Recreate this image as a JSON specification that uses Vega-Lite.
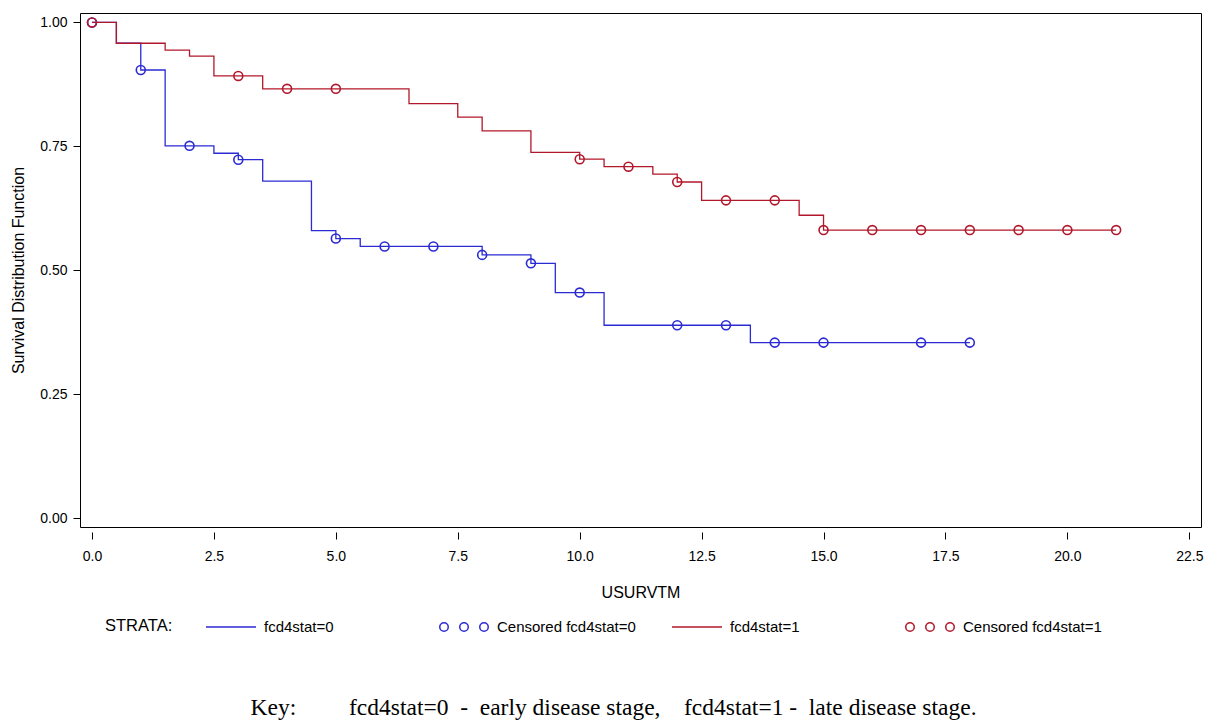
{
  "$schema": "https://vega.github.io/schema/vega-lite/v6.json",
  "width": 1121,
  "height": 514,
  "autosize": {"type": "none"},
  "padding": {"left": 80, "top": 13, "right": 12, "bottom": 195},
  "background": "white",
  "config": {
    "font": "Liberation Sans",
    "view": {"stroke": "#000", "strokeWidth": 1},
    "axis": {"labelColor": "#000", "titleColor": "#000", "tickColor": "#000", "grid": false, "domain": false, "titleFontWeight": "normal"}
  },
  "title": {
    "text": "Key:\u00a0\u00a0\u00a0\u00a0\u00a0\u00a0\u00a0\u00a0\u00a0fcd4stat=0\u00a0\u00a0-\u00a0\u00a0early disease stage,\u00a0\u00a0\u00a0\u00a0fcd4stat=1 -\u00a0\u00a0late disease stage.",
    "orient": "bottom",
    "anchor": "middle",
    "frame": "group",
    "font": "Liberation Serif",
    "fontSize": 23.5,
    "fontWeight": "normal",
    "color": "#000",
    "dx": -27,
    "offset": 61
  },
  "datasets": {
    "curves": [
      {"key": "fcd4stat=0", "t": 0, "S": 1.0},
      {"key": "fcd4stat=0", "t": 0.5, "S": 0.958},
      {"key": "fcd4stat=0", "t": 1.0, "S": 0.904},
      {"key": "fcd4stat=0", "t": 1.5, "S": 0.751},
      {"key": "fcd4stat=0", "t": 2.5, "S": 0.736},
      {"key": "fcd4stat=0", "t": 3.0, "S": 0.723},
      {"key": "fcd4stat=0", "t": 3.5, "S": 0.68},
      {"key": "fcd4stat=0", "t": 4.5, "S": 0.58},
      {"key": "fcd4stat=0", "t": 5.0, "S": 0.564},
      {"key": "fcd4stat=0", "t": 5.5, "S": 0.548},
      {"key": "fcd4stat=0", "t": 8.0, "S": 0.531},
      {"key": "fcd4stat=0", "t": 9.0, "S": 0.514},
      {"key": "fcd4stat=0", "t": 9.5, "S": 0.455},
      {"key": "fcd4stat=0", "t": 10.5, "S": 0.389},
      {"key": "fcd4stat=0", "t": 13.5, "S": 0.354},
      {"key": "fcd4stat=0", "t": 18.0, "S": 0.354},
      {"key": "fcd4stat=1", "t": 0, "S": 1.0},
      {"key": "fcd4stat=1", "t": 0.5, "S": 0.958},
      {"key": "fcd4stat=1", "t": 1.5, "S": 0.944},
      {"key": "fcd4stat=1", "t": 2.0, "S": 0.932},
      {"key": "fcd4stat=1", "t": 2.5, "S": 0.892},
      {"key": "fcd4stat=1", "t": 3.5, "S": 0.866},
      {"key": "fcd4stat=1", "t": 6.5, "S": 0.836},
      {"key": "fcd4stat=1", "t": 7.5, "S": 0.809},
      {"key": "fcd4stat=1", "t": 8.0, "S": 0.781},
      {"key": "fcd4stat=1", "t": 9.0, "S": 0.738},
      {"key": "fcd4stat=1", "t": 10.0, "S": 0.724},
      {"key": "fcd4stat=1", "t": 10.5, "S": 0.709},
      {"key": "fcd4stat=1", "t": 11.5, "S": 0.694},
      {"key": "fcd4stat=1", "t": 12.0, "S": 0.678},
      {"key": "fcd4stat=1", "t": 12.5, "S": 0.641},
      {"key": "fcd4stat=1", "t": 14.5, "S": 0.611},
      {"key": "fcd4stat=1", "t": 15.0, "S": 0.581},
      {"key": "fcd4stat=1", "t": 21.0, "S": 0.581}
    ],
    "censored": [
      {"key": "Censored fcd4stat=0", "t": 0, "S": 1.0},
      {"key": "Censored fcd4stat=0", "t": 1, "S": 0.904},
      {"key": "Censored fcd4stat=0", "t": 2, "S": 0.751},
      {"key": "Censored fcd4stat=0", "t": 3, "S": 0.723},
      {"key": "Censored fcd4stat=0", "t": 5, "S": 0.564},
      {"key": "Censored fcd4stat=0", "t": 6, "S": 0.548},
      {"key": "Censored fcd4stat=0", "t": 7, "S": 0.548},
      {"key": "Censored fcd4stat=0", "t": 8, "S": 0.531},
      {"key": "Censored fcd4stat=0", "t": 9, "S": 0.514},
      {"key": "Censored fcd4stat=0", "t": 10, "S": 0.455},
      {"key": "Censored fcd4stat=0", "t": 12, "S": 0.389},
      {"key": "Censored fcd4stat=0", "t": 13, "S": 0.389},
      {"key": "Censored fcd4stat=0", "t": 14, "S": 0.354},
      {"key": "Censored fcd4stat=0", "t": 15, "S": 0.354},
      {"key": "Censored fcd4stat=0", "t": 17, "S": 0.354},
      {"key": "Censored fcd4stat=0", "t": 18, "S": 0.354},
      {"key": "Censored fcd4stat=1", "t": 0, "S": 1.0},
      {"key": "Censored fcd4stat=1", "t": 3, "S": 0.892},
      {"key": "Censored fcd4stat=1", "t": 4, "S": 0.866},
      {"key": "Censored fcd4stat=1", "t": 5, "S": 0.866},
      {"key": "Censored fcd4stat=1", "t": 10, "S": 0.724},
      {"key": "Censored fcd4stat=1", "t": 11, "S": 0.709},
      {"key": "Censored fcd4stat=1", "t": 12, "S": 0.678},
      {"key": "Censored fcd4stat=1", "t": 13, "S": 0.641},
      {"key": "Censored fcd4stat=1", "t": 14, "S": 0.641},
      {"key": "Censored fcd4stat=1", "t": 15, "S": 0.581},
      {"key": "Censored fcd4stat=1", "t": 16, "S": 0.581},
      {"key": "Censored fcd4stat=1", "t": 17, "S": 0.581},
      {"key": "Censored fcd4stat=1", "t": 18, "S": 0.581},
      {"key": "Censored fcd4stat=1", "t": 19, "S": 0.581},
      {"key": "Censored fcd4stat=1", "t": 20, "S": 0.581},
      {"key": "Censored fcd4stat=1", "t": 21, "S": 0.581}
    ],
    "legendKeys": [
      {"key": "fcd4stat=0", "t": null, "S": null},
      {"key": "Censored fcd4stat=0", "t": null, "S": null},
      {"key": "fcd4stat=1", "t": null, "S": null},
      {"key": "Censored fcd4stat=1", "t": null, "S": null}
    ]
  },
  "encoding": {
    "x": {
      "field": "t", "type": "quantitative",
      "scale": {"domain": [-0.246, 22.74], "nice": false, "zero": false},
      "axis": {"title": "USURVTM", "values": [0, 2.5, 5, 7.5, 10, 12.5, 15, 17.5, 20, 22.5], "format": ".1f", "offset": 5, "tickSize": 7, "labelFontSize": 14, "labelPadding": 10, "titleFontSize": 16, "titlePadding": 21}
    },
    "y": {
      "field": "S", "type": "quantitative",
      "scale": {"domain": [-0.018, 1.019], "nice": false, "zero": false},
      "axis": {"title": "Survival Distribution Function", "values": [0, 0.25, 0.5, 0.75, 1], "format": ".2f", "tickSize": 7, "labelFontSize": 14, "labelPadding": 6, "titleFontSize": 16, "titlePadding": 13}
    }
  },
  "layer": [
    {
      "data": {"name": "curves"},
      "mark": {"type": "line", "interpolate": "step-after", "strokeWidth": 1.3},
      "encoding": {
        "color": {"field": "key", "type": "nominal",
          "scale": {"domain": ["fcd4stat=0", "Censored fcd4stat=0", "fcd4stat=1", "Censored fcd4stat=1"], "range": ["#2b2bd4", "#2b2bd4", "#b2182b", "#b2182b"]}}
      }
    },
    {
      "data": {"name": "censored"},
      "mark": {"type": "point", "shape": "circle", "filled": false, "size": 80, "strokeWidth": 1.6, "opacity": 1},
      "encoding": {
        "color": {"field": "key", "type": "nominal"}
      }
    },
    {
      "data": {"name": "legendKeys"},
      "mark": {"type": "point", "filled": false, "strokeWidth": 1.5, "opacity": 1},
      "encoding": {
        "color": {"field": "key", "type": "nominal",
          "legend": {"title": "STRATA:", "orient": "none", "legendX": 25, "legendY": 588, "direction": "horizontal", "columns": 4, "gridAlign": "all", "columnPadding": 33, "symbolSize": 2500, "symbolStrokeWidth": 1.5, "labelFontSize": 15, "labelOffset": 7, "labelColor": "#000", "titleFontSize": 16.5, "titleFontWeight": "normal", "titleColor": "#000", "titleOrient": "left", "titlePadding": 32, "titleAnchor": "middle", "titleBaseline": "top", "padding": 0, "labelLimit": 300}},
        "shape": {"field": "key", "type": "nominal",
          "scale": {"domain": ["fcd4stat=0", "Censored fcd4stat=0", "fcd4stat=1", "Censored fcd4stat=1"], "range": ["stroke", "M-0.63,0A0.17,0.17,0,1,1,-0.97,0A0.17,0.17,0,1,1,-0.63,0Z M0.17,0A0.17,0.17,0,1,1,-0.17,0A0.17,0.17,0,1,1,0.17,0Z M0.97,0A0.17,0.17,0,1,1,0.63,0A0.17,0.17,0,1,1,0.97,0Z", "stroke", "M-0.63,0A0.17,0.17,0,1,1,-0.97,0A0.17,0.17,0,1,1,-0.63,0Z M0.17,0A0.17,0.17,0,1,1,-0.17,0A0.17,0.17,0,1,1,0.17,0Z M0.97,0A0.17,0.17,0,1,1,0.63,0A0.17,0.17,0,1,1,0.97,0Z"]},
          "legend": {"title": "STRATA:", "orient": "none", "legendX": 25, "legendY": 588, "direction": "horizontal", "columns": 4, "gridAlign": "all", "columnPadding": 33, "symbolSize": 2500, "symbolStrokeWidth": 1.5, "labelFontSize": 15, "labelOffset": 7, "labelColor": "#000", "titleFontSize": 16.5, "titleFontWeight": "normal", "titleColor": "#000", "titleOrient": "left", "titlePadding": 32, "titleAnchor": "middle", "titleBaseline": "top", "padding": 0, "labelLimit": 300}}
      }
    }
  ]
}
